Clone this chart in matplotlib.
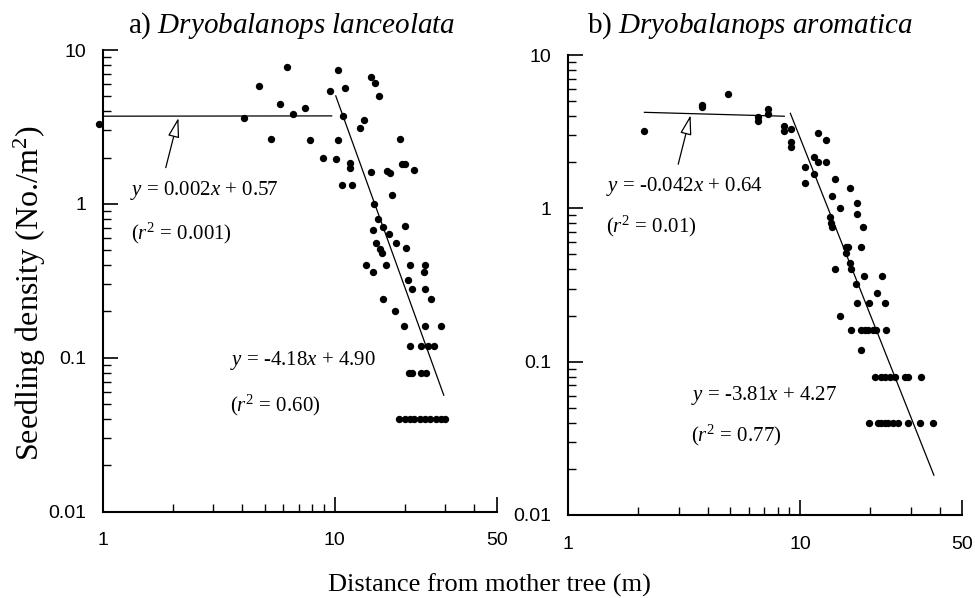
import matplotlib
matplotlib.use("Agg")
import matplotlib.pyplot as plt
from matplotlib.ticker import FixedLocator, NullFormatter
import numpy as np

# a) Dryobalanops lanceolata: distance (m), seedling density (No./m2)
la_x = [0.96, 4.05, 4.7, 5.3, 5.8, 6.2, 6.6, 7.45, 7.8, 8.9, 9.55, 10.1, 10.3, 10.3,
        10.7, 10.8, 11.1, 11.6, 11.6, 11.9, 12.9, 13.4, 13.7, 14.3, 14.4, 14.6, 14.6,
        14.7, 14.9, 15.0, 15.4, 15.5, 15.6, 16.0, 16.2, 16.2, 16.7, 16.8, 17.1, 17.3,
        17.7, 18.2, 18.4, 19.2, 19.4, 19.8, 20.1, 20.1, 20.3, 20.6, 21.1, 21.6, 21.9,
        24.2, 24.4, 24.6, 24.6, 26.1, 28.7,
        21.0, 23.6, 25.2, 26.9,
        20.8, 21.6, 23.6, 24.8,
        19.0, 20.0, 21.0, 22.0, 23.2, 24.5, 25.8, 27.2, 28.6, 29.8]
la_y = [3.3, 3.6, 5.8, 2.65, 4.45, 7.8, 3.85, 4.2, 2.6, 2.0, 5.4, 1.95, 7.45, 2.6,
        1.32, 3.7, 5.65, 1.85, 1.72, 1.32, 3.1, 3.5, 0.40, 1.6, 6.7, 0.68, 0.36,
        1.0, 6.15, 0.56, 0.80, 5.05, 0.51, 0.48, 0.71, 0.24, 0.40, 1.64, 0.64, 1.59,
        1.15, 0.20, 0.56, 2.66, 1.83, 0.16, 1.83, 0.72, 0.52, 0.32, 0.40, 0.28, 1.65,
        0.36, 0.40, 0.28, 0.16, 0.24, 0.16,
        0.12, 0.12, 0.12, 0.12,
        0.08, 0.08, 0.08, 0.08,
        0.04, 0.04, 0.04, 0.04, 0.04, 0.04, 0.04, 0.04, 0.04, 0.04]

# b) Dryobalanops aromatica
ar_x = [2.13, 3.76, 3.76, 4.9, 6.6, 6.6, 7.3, 7.3, 8.5, 8.5, 9.1, 9.1, 9.1, 10.5,
        10.5, 11.5, 11.5, 11.9, 11.9, 13.0, 13.0, 13.4, 13.6, 13.8, 13.8, 14.1, 14.1,
        14.8, 14.8, 15.8, 16.1, 15.8, 16.4, 16.4, 16.6, 17.5, 17.6, 17.6, 17.6, 18.7,
        18.4, 18.8, 19.8, 21.5, 22.6, 23.3,
        16.6, 18.4, 19.0, 19.6, 20.6, 21.3, 23.6,
        18.4,
        21.0, 22.4, 23.2, 24.4, 25.6, 28.3, 29.3, 33.4,
        19.9, 21.7, 22.4, 23.2, 24.0, 25.2, 26.5, 29.3, 32.9, 37.5]
ar_y = [3.2, 4.75, 4.55, 5.6, 3.95, 3.7, 4.45, 4.15, 3.45, 3.2, 3.3, 2.7, 2.5, 1.85,
        1.47, 2.15, 1.67, 3.1, 2.0, 2.8, 2.0, 0.88, 0.80, 0.76, 1.2, 1.55, 0.40,
        1.0, 0.20, 0.56, 0.56, 0.51, 1.35, 0.44, 0.40, 0.32, 1.08, 0.92, 0.24, 0.76,
        0.56, 0.36, 0.24, 0.28, 0.36, 0.24,
        0.16, 0.16, 0.16, 0.16, 0.16, 0.16, 0.16,
        0.12,
        0.08, 0.08, 0.08, 0.08, 0.08, 0.08, 0.08, 0.08,
        0.04, 0.04, 0.04, 0.04, 0.04, 0.04, 0.04, 0.04, 0.04, 0.04]

# log-log regressions: (slope, intercept, x start, x end)
la_fits = [(0.002, 0.57, 1.0, 9.7), (-4.18, 4.90, 10.1, 29.5)]
ar_fits = [(-0.042, 0.64, 2.13, 8.55), (-3.81, 4.27, 9.08, 37.8)]

la_labels = [r"$y$ = 0.002$x$ + 0.57", r"($r^2$ = 0.001)",
             r"$y$ = -4.18$x$ + 4.90", r"($r^2$ = 0.60)"]
ar_labels = [r"$y$ = -0.042$x$ + 0.64", r"($r^2$ = 0.01)",
             r"$y$ = -3.81$x$ + 4.27", r"($r^2$ = 0.77)"]

serif = "Liberation Serif"
sans = "Liberation Sans"
plt.rcParams["mathtext.fontset"] = "custom"
plt.rcParams["mathtext.rm"] = serif
plt.rcParams["mathtext.it"] = serif + ":italic"

fig = plt.figure(figsize=(9.75, 5.98), dpi=100)
ax1 = fig.add_axes([0.1053, 0.1446, 0.4044, 0.7717])
ax2 = fig.add_axes([0.5829, 0.1388, 0.4038, 0.7692])


def style_axis(ax):
    ax.set_xscale("log")
    ax.set_yscale("log")
    ax.set_xlim(1, 50)
    ax.set_ylim(0.01, 10)
    for side in ["top", "right"]:
        ax.spines[side].set_visible(False)
    for side in ["left", "bottom"]:
        ax.spines[side].set_linewidth(1.5)
    ax.xaxis.set_major_locator(FixedLocator([1, 10, 50]))
    ax.xaxis.set_minor_locator(FixedLocator([2, 3, 4, 5, 6, 7, 8, 9, 20, 30, 40]))
    ax.set_xticklabels(["1", "10", "50"])
    ax.xaxis.set_minor_formatter(NullFormatter())
    ax.yaxis.set_major_locator(FixedLocator([0.01, 0.1, 1, 10]))
    ax.yaxis.set_minor_locator(FixedLocator(
        [m * d for d in (0.01, 0.1, 1) for m in range(2, 10)]))
    ax.set_yticklabels(["0.01", "0.1", "1", "10"])
    ax.yaxis.set_minor_formatter(NullFormatter())
    ax.tick_params(which="major", direction="in", length=11, width=1.2,
                   labelsize=14, pad=12)
    ax.tick_params(which="minor", direction="in", length=6, width=1.0)
    for lab in ax.get_xticklabels() + ax.get_yticklabels():
        lab.set_fontfamily(sans)
    ax.tick_params(axis="x", pad=15)


def draw_panel(ax, xs, ys, fits, labels, label_pos, arrow):
    style_axis(ax)
    ax.scatter(xs, ys, s=28, color="black", linewidths=0, zorder=3, clip_on=False)
    for slope, icpt, x0, x1 in fits:
        xx = np.array([x0, x1])
        ax.plot(xx, 10 ** (slope * np.log10(xx) + icpt), color="black", lw=0.9)
    for txt, (tx, ty) in zip(labels, label_pos):
        ax.text(tx, ty, txt, fontsize=15, family=serif, ha="left", va="center")
    (ax_tip, ay_tip), (ax_tail, ay_tail) = arrow
    ax.annotate("", xy=(ax_tip, ay_tip), xytext=(ax_tail, ay_tail),
                arrowprops=dict(arrowstyle="-|>,head_length=1.2,head_width=0.35",
                                fc="white", ec="black", lw=0.9, shrinkA=0, shrinkB=0))


draw_panel(ax1, la_x, la_y, la_fits, la_labels,
           [(1.31, 1.22), (1.32, 0.64), (3.55, 0.096), (3.55, 0.049)],
           ((2.12, 3.62), (1.87, 1.72)))
draw_panel(ax2, ar_x, ar_y, ar_fits, ar_labels,
           [(1.45, 1.38), (1.45, 0.76), (3.37, 0.0605), (3.37, 0.0332)],
           ((3.37, 4.05), (2.98, 1.94)))

fig.text(0.2995, 0.946, r"a) $\mathit{Dryobalanops\ lanceolata}$", fontsize=21,
         family=serif, ha="center", va="baseline")
fig.text(0.769, 0.946, r"b) $\mathit{Dryobalanops\ aromatica}$", fontsize=21,
         family=serif, ha="center", va="baseline")
fig.text(0.502, 0.010, "Distance from mother tree (m)", fontsize=19,
         family=serif, ha="center", va="baseline")
fig.text(0.031, 0.509, r"Seedling density (No./m$^2$)", fontsize=23,
         family=serif, ha="center", va="center", rotation=90)

fig.savefig("out.png", dpi=100)
